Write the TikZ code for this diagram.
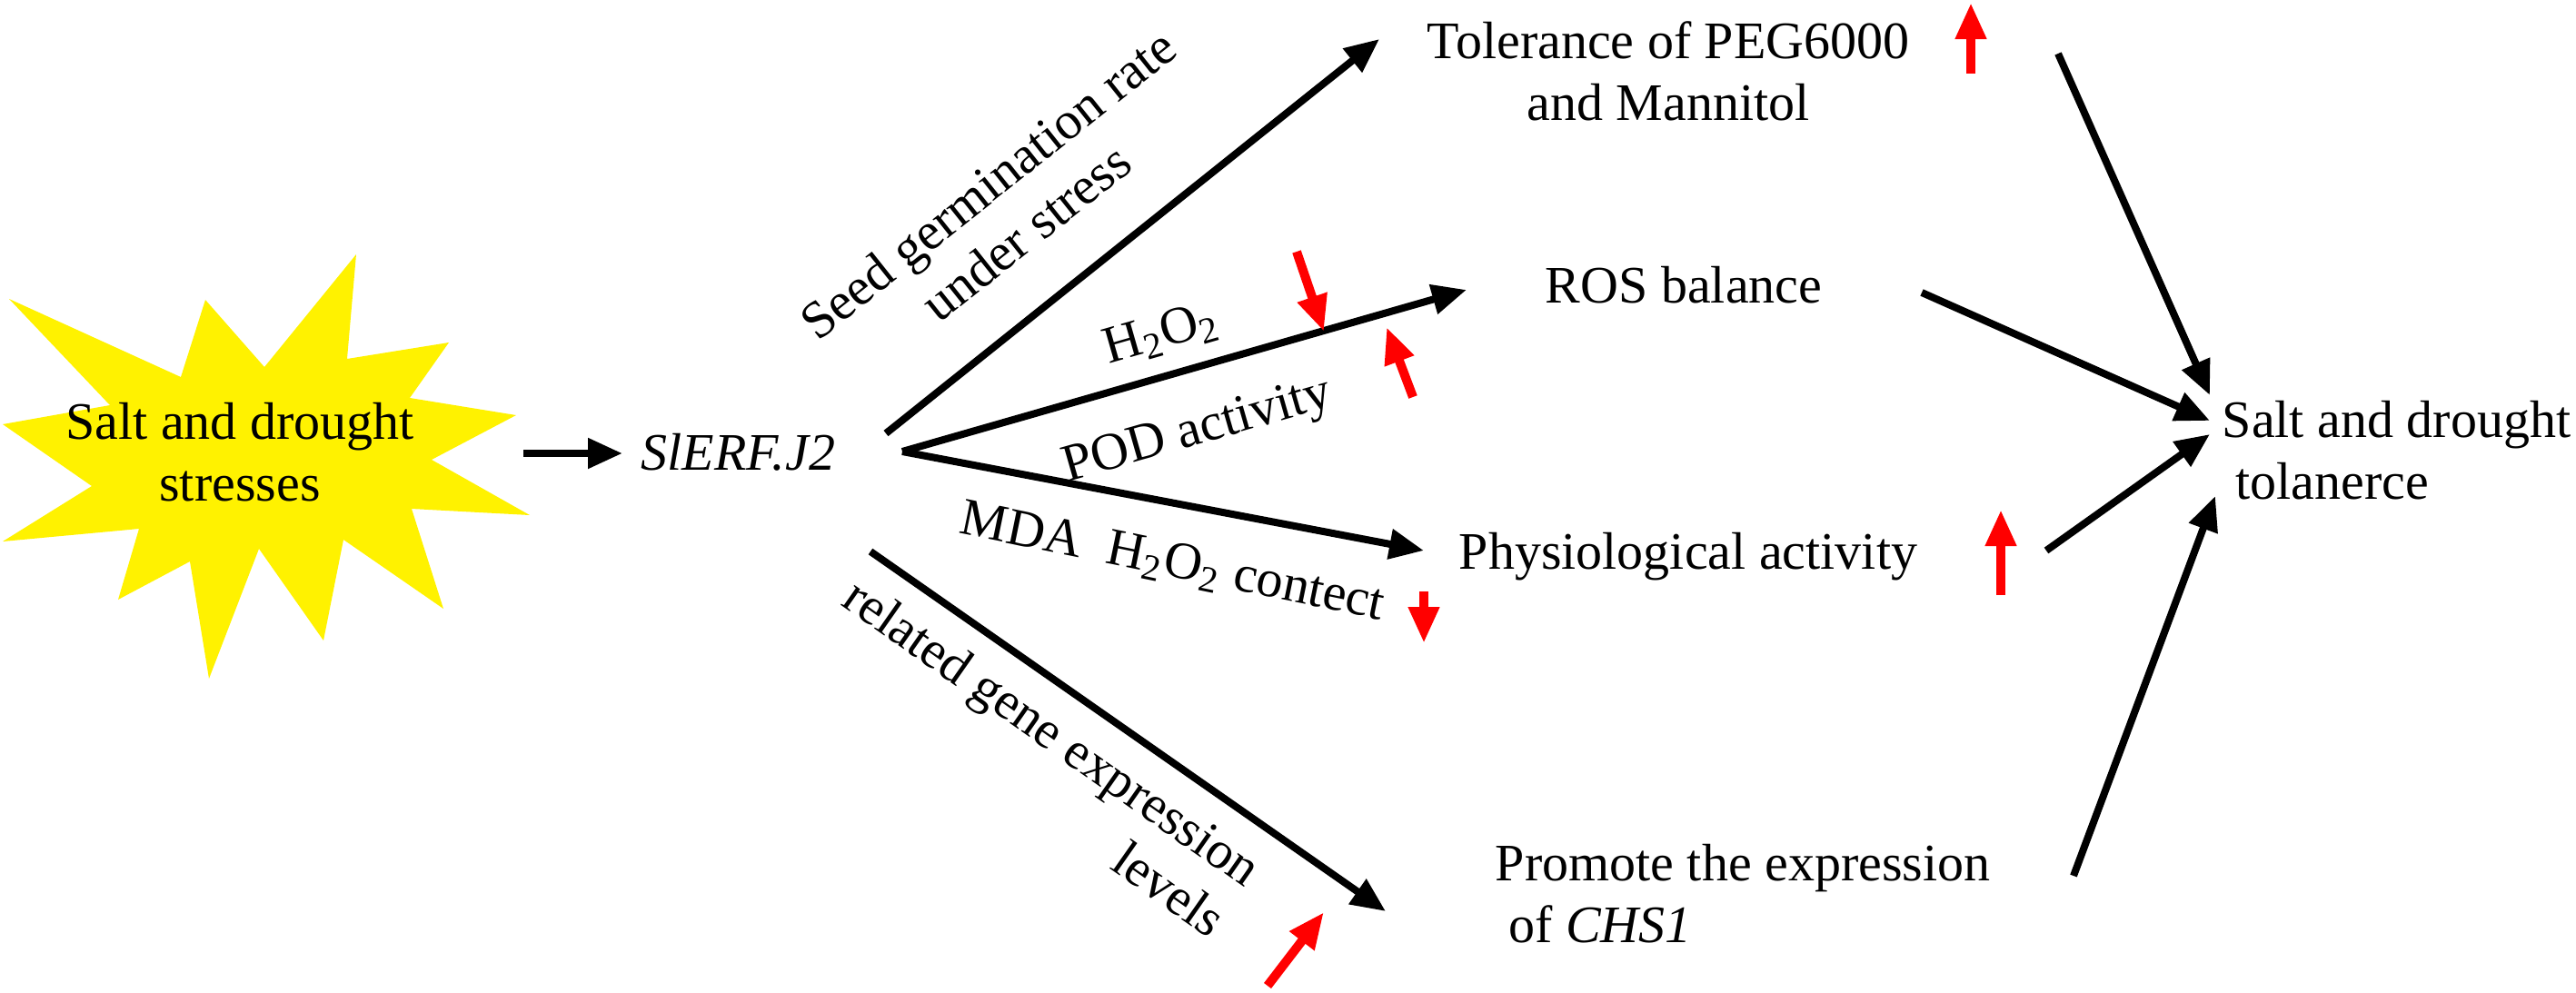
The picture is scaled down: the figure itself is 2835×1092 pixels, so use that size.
\documentclass[tikz,border=0pt]{standalone}
\usepackage{fontspec}
\setmainfont{Liberation Serif}
\usetikzlibrary{arrows.meta}

\begin{document}
\begin{tikzpicture}[x=0.25pt, y=-0.25pt,
  font=\fontsize{14.5}{17}\selectfont,
  txt/.style={inner sep=0pt},
  link/.style={line width=2pt, -{Triangle[length=9.5pt,width=8pt]}},
  updown/.style={red, line width=2.5pt, -{Triangle[length=10pt,width=8pt]}}]

\useasboundingbox (0,0) rectangle (2835,1092);

% stress star
\fill[yellow] (392,280) -- (382,395) -- (494,377) -- (451,438) -- (568,457)
  -- (475,506) -- (583,567) -- (453,560) -- (488,670) -- (378,594)
  -- (356,705) -- (285,604) -- (230,747) -- (209,618) -- (130,660)
  -- (153,582) -- (3,596) -- (101,535) -- (3,467) -- (121,446)
  -- (10,329) -- (199,415) -- (226,330) -- (291,404) -- cycle;
\node[txt, align=center] (stress) at (264,498) {Salt and drought\\stresses};

% gene and effects
\node[txt, anchor=base west] (gene) at (705,517) {\textit{SlERF.J2}};
\node[txt, align=center] (tol) at (1836,78) {Tolerance of PEG6000\\and Mannitol};
\node[txt, anchor=base west] (ros) at (1700,333) {ROS balance};
\node[txt, anchor=base west] (phys) at (1605,626) {Physiological activity};
\node[txt, align=left, anchor=west] (chs) at (1645,984) {Promote the expression\\~of \textit{CHS1}};
\node[txt, align=left, anchor=west] (sdt) at (2445,496) {Salt and drought\\~tolanerce};

% arrow labels
\node[txt, align=center, rotate=38.5] (lseed) at (1108,229) {Seed germination rate\\under stress};
\node[txt, rotate=16] (lhtwo) at (1278,368) {H\textsubscript{2}O\textsubscript{2}};
\node[txt, rotate=16] (lpod) at (1318,476) {POD activity};
\node[txt, rotate=-11.6] (lmda) at (1290,620) {MDA\ \ H\textsubscript{2}O\textsubscript{2} contect};
\node[txt, align=right, rotate=-35] (lgene) at (1139,833) {related gene expression\\levels};

% arrow ends
\coordinate (stressout) at (576,499);
\coordinate (genein) at (685,499);
\coordinate (hubA) at (975,477);
\coordinate (hub) at (993,497);
\coordinate (hubB) at (958,607);
\coordinate (tolin) at (1518,43);
\coordinate (rosin) at (1614,319);
\coordinate (physin) at (1567,606);
\coordinate (chsin) at (1525,1003);
\coordinate (tolout) at (2265,59);
\coordinate (rosout) at (2115,322);
\coordinate (physout) at (2252,606);
\coordinate (chsout) at (2282,964);
\coordinate (sdtA) at (2432,435);
\coordinate (sdtB) at (2432,463);
\coordinate (sdtC) at (2432,478);
\coordinate (sdtD) at (2438,546);

% black arrows
\draw[link] (stressout) -- (genein);
\draw[link] (hubA) -- (tolin);
\draw[link] (hub) -- (rosin);
\draw[link] (hub) -- (physin);
\draw[link] (hubB) -- (chsin);
\draw[link] (tolout) -- (sdtA);
\draw[link] (rosout) -- (sdtB);
\draw[link] (physout) -- (sdtC);
\draw[link] (chsout) -- (sdtD);

% red up / down marks
\foreach \xa/\ya/\xb/\yb in {2169/81/2169/3, 1427/277/1457/365, 1555/437/1526/360,
    1567/651/1567/708, 2202/655/2202/561, 1395/1085/1457/1004} {
  \draw[updown] (\xa,\ya) -- (\xb,\yb);
}

\end{tikzpicture}
\end{document}
